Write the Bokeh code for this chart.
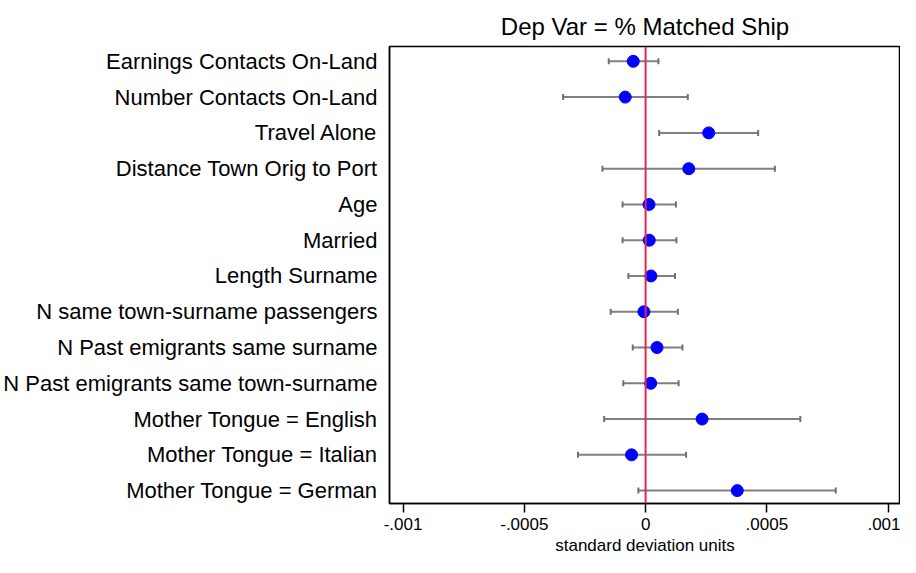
from bokeh.plotting import figure
from bokeh.models import ColumnDataSource, Whisker, Span, FixedTicker, Range1d
from bokeh.embed import file_html
from bokeh.resources import INLINE

labels = [
    "Earnings Contacts On-Land",
    "Number Contacts On-Land",
    "Travel Alone",
    "Distance Town Orig to Port",
    "Age",
    "Married",
    "Length Surname",
    "N same town-surname passengers",
    "N Past emigrants same surname",
    "N Past emigrants same town-surname",
    "Mother Tongue = English",
    "Mother Tongue = Italian",
    "Mother Tongue = German",
]
coef = [-0.000051, -0.000084, 0.000260, 0.000178, 0.000014, 0.000015, 0.000022,
        -0.000007, 0.000047, 0.000021, 0.000233, -0.000058, 0.000378]
lower = [-0.000152, -0.000340, 0.000056, -0.000178, -0.000095, -0.000095, -0.000071,
         -0.000144, -0.000053, -0.000092, -0.000171, -0.000279, -0.000030]
upper = [0.000053, 0.000174, 0.000464, 0.000533, 0.000125, 0.000127, 0.000121,
         0.000133, 0.000152, 0.000136, 0.000638, 0.000167, 0.000784]

x_ticks = [-0.001, -0.0005, 0, 0.0005, 0.001]
x_tick_labels = ["-.001", "-.0005", "0", ".0005", ".001"]

FONT = "Liberation Sans"

n = len(labels)
ypos = [n - i for i in range(n)]  # first label at top

src = ColumnDataSource(dict(y=ypos, x=coef, lo=lower, hi=upper))

p = figure(width=900, height=557, output_backend="svg", toolbar_location=None,
           y_range=Range1d(0.64, n + 0.415),
           x_range=Range1d(-0.001056, 0.001051),
           min_border_left=385, min_border_right=0, min_border_top=46, min_border_bottom=54,
           title="Dep Var = % Matched Ship")

p.title.align = "center"
p.title.vertical_align = "top"
p.title.text_font = FONT
p.title.text_font_size = "24px"
p.title.text_font_style = "normal"
p.title.text_color = "black"
p.title.standoff = 10

p.outline_line_color = "black"
p.outline_line_width = 1.5
p.xgrid.visible = False
p.ygrid.visible = False

wh = Whisker(source=src, base="y", lower="lo", upper="hi", dimension="width",
             line_color="#808080", line_width=2)
for h in (wh.upper_head, wh.lower_head):
    h.size = 6
    h.line_color = "#707070"
    h.line_width = 2
p.add_layout(wh)

p.add_layout(Span(location=0, dimension="height", line_color="#E4284F", line_width=2))

p.scatter("x", "y", source=src, size=12, fill_color="#0000FF", line_color="#0000FF")

xa = p.xaxis[0]
xa.ticker = FixedTicker(ticks=x_ticks)
xa.major_label_overrides = {t: l for t, l in zip(x_ticks, x_tick_labels)}
xa.minor_tick_line_color = None
xa.major_tick_out = 9
xa.major_tick_in = 0
xa.major_tick_line_color = "black"
xa.major_tick_line_width = 1.5
xa.axis_line_color = "black"
xa.axis_line_width = 1.5
xa.major_label_text_font = FONT
xa.major_label_text_font_size = "17px"
xa.major_label_text_color = "black"
xa.major_label_standoff = 5
xa.axis_label = "standard deviation units"
xa.axis_label_text_font = FONT
xa.axis_label_text_font_size = "17px"
xa.axis_label_text_font_style = "normal"
xa.axis_label_text_color = "black"
xa.axis_label_standoff = 3

ya = p.yaxis[0]
ya.ticker = FixedTicker(ticks=ypos)
ya.major_label_overrides = {y: l for y, l in zip(ypos, labels)}
ya.major_tick_line_color = None
ya.minor_tick_line_color = None
ya.axis_line_color = "black"
ya.axis_line_width = 1.5
ya.major_label_text_font = FONT
ya.major_label_text_font_size = "22px"
ya.major_label_text_color = "black"
ya.major_label_standoff = 6

open("out.html", "w").write(file_html(p, INLINE))
